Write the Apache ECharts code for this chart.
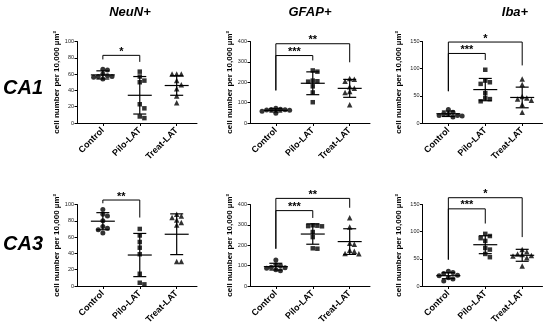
<!DOCTYPE html>
<html><head><meta charset="utf-8">
<script src="https://cdn.jsdelivr.net/npm/echarts@6/dist/echarts.min.js"></script>
<style>html,body{margin:0;padding:0;background:#fff}#c{width:550px;height:331px}</style>
</head><body><div id="c"></div>
<script>
// ---------- data ----------
const categories = ['Control', 'Pilo-LAT', 'Treat-LAT'];
const panelTitles = ['NeuN+', 'GFAP+', 'Iba+'];
const rowLabels = ['CA1', 'CA3'];
const yAxisName = 'cell number per 10,000 µm²';
const yMax = [100, 400, 150];
const yStep = [20, 100, 50];

// CA1 row
const neunCA1 = [[60, 58, 66, 65, 57, 56, 57, 54], [63, 57, 52, 50, 23, 18, 8, 6], [60, 60, 60, 52, 47, 42, 33, 25]];
const neunCA1Mean = [59, 34, 46];
const neunCA1Sd = [5, 23, 12];
const neunCA1Sig = [[1, 2, 83, 78, 75, '*']];

const gfapCA1 = [[66, 65, 64, 68, 72, 62, 58, 48], [258, 252, 205, 203, 208, 180, 150, 102], [218, 215, 205, 178, 170, 155, 150, 90]];
const gfapCA1Mean = [62, 195, 170];
const gfapCA1Sd = [8, 56, 44];
const gfapCA1Sig = [[1, 3, 389, 160, 298, '**'], [1, 2, 331, 160, 307, '***']];

const ibaCA1 = [[25, 20, 17, 16, 14, 14, 13, 11], [98, 78, 75, 72, 55, 46, 44, 40], [81, 71, 49, 46, 44, 42, 34, 20]];
const ibaCA1Mean = [17, 61.5, 47];
const ibaCA1Sd = [5, 20.5, 19];
const ibaCA1Sig = [[1, 3, 149, 58.5, 106, '*'], [1, 2, 128, 58.5, 116, '***']];

// CA3 row
const neunCA3 = [[94, 88, 86, 80, 73, 71, 69, 65], [70, 62, 54, 47, 39, 15, 4, 2], [88, 86, 84, 81, 78, 75, 30, 30]];
const neunCA3Mean = [79.5, 38, 63.5];
const neunCA3Sd = [10.5, 26.5, 25];
const neunCA3Sig = [[1, 2, 105.5, 101.5, 84, '**']];

const gfapCA3 = [[127, 104, 100, 92, 90, 87, 80, 75], [298, 296, 294, 293, 265, 240, 185, 183], [335, 290, 210, 205, 175, 170, 160, 158]];
const gfapCA3Mean = [95, 255, 218];
const gfapCA3Sd = [16.5, 50, 63];
const gfapCA3Sig = [[1, 3, 430, 183, 384, '**'], [1, 2, 370, 183, 334, '***']];

const ibaCA3 = [[27, 25, 23, 20, 19, 15, 13, 9], [96, 92, 88, 83, 70, 67, 59, 53], [67, 63, 59, 58, 56, 55, 52, 37]];
const ibaCA3Mean = [19, 76, 56.5];
const ibaCA3Sd = [5.5, 16.5, 11];
const ibaCA3Sig = [[1, 3, 162.5, 48.6, 90, '*'], [1, 2, 142, 48.6, 115, '***']];

// ---------- layout ----------
const FONT = "'Liberation Sans', Arial, sans-serif";
const colLeft = [77, 250, 422.5];
const nameGaps = [13, 14, 20];
const rowTop = [41.5, 204.5];
const GW = 120, GH = 81.5;
const XMIN = 0.3, XMAX = 3.55;
const symbols = ['circle', 'rect', 'triangle'];
const symSizes = [5, 4.5, 5.5];

const panels = [
  [neunCA1, neunCA1Mean, neunCA1Sd, neunCA1Sig],
  [gfapCA1, gfapCA1Mean, gfapCA1Sd, gfapCA1Sig],
  [ibaCA1, ibaCA1Mean, ibaCA1Sd, ibaCA1Sig],
  [neunCA3, neunCA3Mean, neunCA3Sd, neunCA3Sig],
  [gfapCA3, gfapCA3Mean, gfapCA3Sd, gfapCA3Sig],
  [ibaCA3, ibaCA3Mean, ibaCA3Sd, ibaCA3Sig]
];

// simple beeswarm layout (pixel-space spreading of overlapping dots)
function swarm(values, pxPerY, pxPerX, gap) {
  const order = values.map((v, i) => i).sort((a, b) => values[b] - values[a]);
  const placed = [];
  const out = new Array(values.length);
  order.forEach(i => {
    const py = values[i] * pxPerY;
    let off = 0;
    for (let k = 0; k < 40; k++) {
      const cand = k === 0 ? 0 : (k % 2 ? 1 : -1) * Math.ceil(k / 2) * gap;
      const ok = placed.every(p => Math.hypot(p[0] - cand, p[1] - py) >= gap * 0.98);
      if (ok) { off = cand; break; }
    }
    placed.push([off, py]);
    out[i] = off / pxPerX;
  });
  return out;
}

const grids = [], xAxes = [], yAxes = [], series = [];
panels.forEach((pn, i) => {
  const col = i % 3, row = Math.floor(i / 3);
  const [groups, means, sds, sig] = pn;
  grids.push({ left: colLeft[col], top: rowTop[row], width: GW, height: GH });
  xAxes.push({
    gridIndex: i, type: 'value', min: XMIN, max: XMAX,
    axisLine: { show: true, onZero: false, lineStyle: { color: '#000', width: 1 } },
    axisTick: { show: true, customValues: [1, 2, 3], length: 3, lineStyle: { color: '#000' } },
    axisLabel: {
      show: true, customValues: [1, 2, 3], rotate: 45, margin: 6,
      formatter: v => categories[Math.round(v) - 1] || '',
      fontSize: 9, fontWeight: 'bold', color: '#000', fontFamily: FONT
    },
    splitLine: { show: false }
  });
  yAxes.push({
    gridIndex: i, type: 'value', min: 0, max: yMax[col], interval: yStep[col],
    name: yAxisName, nameLocation: 'middle', nameGap: nameGaps[col],
    nameTextStyle: { fontSize: 8, fontWeight: 'bold', color: '#000', fontFamily: FONT },
    axisLine: { show: true, lineStyle: { color: '#000', width: 1 } },
    axisTick: { show: true, length: 2.5, lineStyle: { color: '#000' } },
    axisLabel: { fontSize: 5.5, margin: 3, color: '#222', fontFamily: FONT },
    splitLine: { show: false }
  });
  const pxPerY = GH / yMax[col];
  const pxPerX = GW / (XMAX - XMIN);
  groups.forEach((vals, g) => {
    const offs = swarm(vals, pxPerY, pxPerX, 4.6);
    series.push({
      type: 'scatter', xAxisIndex: i, yAxisIndex: i,
      symbol: symbols[g], symbolSize: symSizes[g],
      itemStyle: { color: '#000' }, silent: true,
      data: vals.map((v, k) => [g + 1 + offs[k], v])
    });
  });
  series.push({
    type: 'custom', xAxisIndex: i, yAxisIndex: i, silent: true,
    encode: { x: 0, y: 1 },
    data: means.map((m, g) => [g + 1, m, sds[g]]),
    renderItem: (params, api) => {
      const x = api.value(0), m = api.value(1), s = api.value(2);
      const c = api.coord([x, m]), t = api.coord([x, m + s]), b = api.coord([x, m - s]);
      const st = { stroke: '#000', lineWidth: 1.2 };
      return { type: 'group', children: [
        { type: 'line', shape: { x1: c[0] - 12, y1: c[1], x2: c[0] + 12, y2: c[1] }, style: st },
        { type: 'line', shape: { x1: t[0], y1: t[1], x2: b[0], y2: b[1] }, style: st },
        { type: 'line', shape: { x1: t[0] - 6.5, y1: t[1], x2: t[0] + 6.5, y2: t[1] }, style: st },
        { type: 'line', shape: { x1: b[0] - 6.5, y1: b[1], x2: b[0] + 6.5, y2: b[1] }, style: st }
      ] };
    }
  });
  series.push({
    type: 'custom', xAxisIndex: i, yAxisIndex: i, silent: true, clip: false,
    encode: { x: [0, 1], y: [2, 3, 4] },
    data: sig.map(s => [s[0], s[1], s[2], s[3], s[4]]),
    renderItem: (params, api) => {
      const x1 = api.value(0), x2 = api.value(1), top = api.value(2), le = api.value(3), re = api.value(4);
      const p1 = api.coord([x1, le]), p2 = api.coord([x1, top]), p3 = api.coord([x2, top]), p4 = api.coord([x2, re]);
      return { type: 'group', children: [
        { type: 'polyline', shape: { points: [p1, p2, p3, p4] }, style: { stroke: '#000', lineWidth: 1, fill: null } },
        { type: 'text', x: (p2[0] + p3[0]) / 2, y: p2[1] - 3.5,
          style: { text: sig[params.dataIndex][5], textAlign: 'center', textVerticalAlign: 'middle',
                   font: 'bold 11px ' + FONT, fill: '#000' } }
      ] };
    }
  });
});

const titleX = [130, 310, 515];
const graphics = [];
panelTitles.forEach((t, c) => graphics.push({
  type: 'text', x: titleX[c], y: 12, silent: true,
  style: { text: t, textAlign: 'center', textVerticalAlign: 'middle', font: 'italic bold 13px ' + FONT, fill: '#000' }
}));
const rowY = [88.5, 244];
rowLabels.forEach((t, r) => graphics.push({
  type: 'text', x: 23, y: rowY[r], silent: true,
  style: { text: t, textAlign: 'center', textVerticalAlign: 'middle', font: 'italic bold 20px ' + FONT, fill: '#000' }
}));

const chart = echarts.init(document.getElementById('c'), null, { renderer: 'canvas' });
chart.setOption({
  animation: false,
  backgroundColor: '#fff',
  grid: grids, xAxis: xAxes, yAxis: yAxes, series: series, graphic: graphics
});
</script></body></html>
